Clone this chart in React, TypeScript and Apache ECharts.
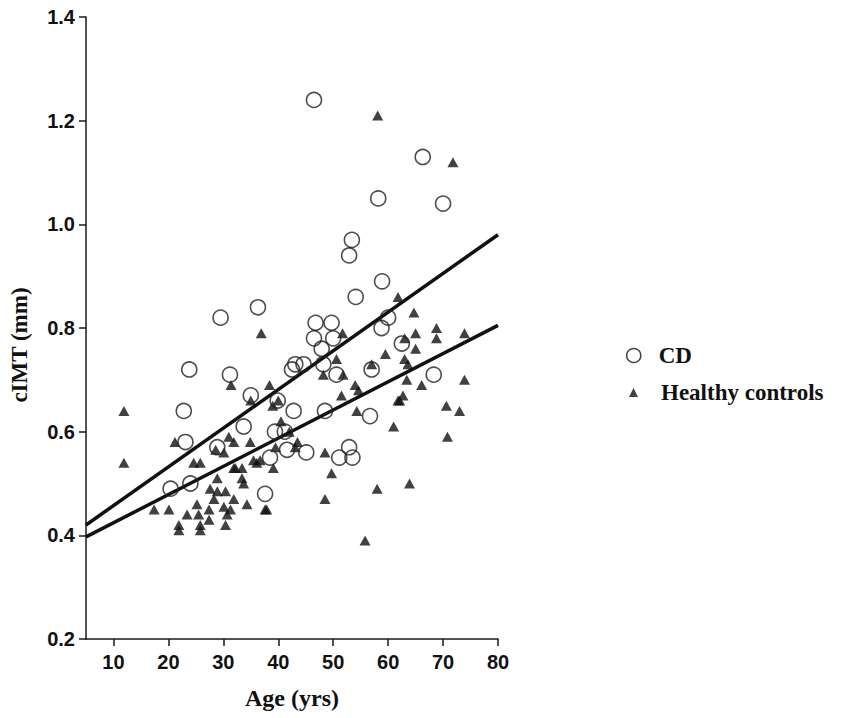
import React, { useEffect, useRef } from "react";
import * as echarts from "echarts";

// CD patients: [age (yrs), cIMT (mm)]
const cdPoints: number[][] = [
  [46.5, 1.24], [66.3, 1.13], [58.2, 1.05], [70.0, 1.04], [53.4, 0.97], [52.9, 0.94],
  [58.9, 0.89], [54.1, 0.86], [36.3, 0.84], [29.5, 0.82], [46.8, 0.81], [49.7, 0.81],
  [60.0, 0.82], [58.8, 0.80], [46.5, 0.78], [50.0, 0.78], [47.9, 0.76], [62.5, 0.77],
  [44.6, 0.73], [43.1, 0.73], [48.2, 0.73], [42.5, 0.72], [23.8, 0.72], [31.2, 0.71],
  [57.0, 0.72], [50.6, 0.71], [68.3, 0.71], [35.0, 0.67], [39.9, 0.66], [22.8, 0.64],
  [42.8, 0.64], [48.5, 0.64], [56.7, 0.63], [33.7, 0.61], [39.4, 0.60], [41.2, 0.60],
  [23.1, 0.58], [28.9, 0.57], [41.6, 0.565], [52.9, 0.57], [45.1, 0.56], [38.5, 0.55],
  [51.1, 0.55], [53.5, 0.55], [24.0, 0.50], [20.4, 0.49], [37.6, 0.48],
];

// Healthy controls: [age (yrs), cIMT (mm)]
const hcPoints: number[][] = [
  [58.1, 1.21], [71.8, 1.12], [61.8, 0.86], [64.7, 0.83], [68.8, 0.80], [36.9, 0.79],
  [65.0, 0.79], [73.9, 0.79], [51.7, 0.79], [63.0, 0.78], [68.8, 0.78], [65.0, 0.76],
  [59.5, 0.75], [63.0, 0.74], [50.6, 0.74], [57.0, 0.73], [63.6, 0.73], [48.2, 0.71],
  [51.8, 0.71], [63.4, 0.70], [73.9, 0.70], [31.4, 0.69], [38.4, 0.69], [66.1, 0.69],
  [54.0, 0.69], [54.6, 0.68], [51.5, 0.67], [62.7, 0.67], [35.0, 0.66], [40.0, 0.66],
  [61.8, 0.66], [62.1, 0.66], [39.0, 0.65], [70.6, 0.65], [11.9, 0.64], [73.0, 0.64],
  [54.3, 0.64], [61.0, 0.61], [70.8, 0.59], [21.2, 0.58], [34.9, 0.58], [43.1, 0.57],
  [28.6, 0.565], [30.1, 0.56], [48.5, 0.56], [31.0, 0.59], [31.9, 0.58], [11.9, 0.54],
  [24.6, 0.54], [25.8, 0.54], [36.1, 0.54], [35.5, 0.545], [36.7, 0.545], [32.2, 0.53],
  [33.4, 0.53], [31.9, 0.53], [39.1, 0.53], [49.7, 0.52], [33.4, 0.51], [28.9, 0.51],
  [27.6, 0.49], [28.9, 0.485], [30.4, 0.485], [58.0, 0.49], [63.9, 0.50], [33.7, 0.50],
  [28.3, 0.47], [31.9, 0.47], [48.5, 0.47], [30.1, 0.455], [34.3, 0.46], [25.2, 0.46],
  [27.4, 0.45], [17.4, 0.45], [20.1, 0.45], [37.6, 0.45], [23.4, 0.44], [25.5, 0.44],
  [30.7, 0.44], [31.3, 0.45], [27.4, 0.43], [21.9, 0.42], [30.4, 0.42], [25.8, 0.42],
  [21.9, 0.41], [25.8, 0.41], [55.8, 0.39], [37.9, 0.45], [40.5, 0.62], [42.0, 0.60],
  [43.5, 0.58], [39.5, 0.57],
];

// Regression lines (endpoints of the fitted lines)
const cdFit: number[][] = [[5, 0.42], [80, 0.98]];
const hcFit: number[][] = [[5, 0.397], [80, 0.805]];

const xTicks = [10, 20, 30, 40, 50, 60, 70, 80];
const yTicks = [0.2, 0.4, 0.6, 0.8, 1.0, 1.2, 1.4];

const SANS = "'Liberation Sans', Arial, sans-serif";
const SERIF = "'Liberation Serif', 'Times New Roman', serif";

export default function App() {
  const ref = useRef<HTMLDivElement>(null);

  useEffect(() => {
    if (!ref.current) return;
    const chart = echarts.init(ref.current, undefined, { renderer: "svg" });
    const axisLine = { show: true, lineStyle: { color: "#1a1a1a", width: 1.5 } };
    chart.setOption({
      animation: false,
      backgroundColor: "#ffffff",
      grid: { left: 86, right: 351, top: 17, bottom: 79, containLabel: false, outerBoundsMode: "none" },
      legend: [
        {
          data: [{ name: "CD", icon: "circle", itemStyle: { color: "rgba(0,0,0,0)", borderColor: "#111", borderWidth: 1.5 } }],
          left: 621,
          top: 339,
          itemWidth: 14,
          itemHeight: 14,
          textStyle: { fontFamily: SERIF, fontWeight: "bold", fontSize: 23, color: "#111", padding: [0, 0, 0, 13] },
          selectedMode: false,
        },
        {
          data: [{ name: "Healthy controls", icon: "triangle", itemStyle: { color: "#111" } }],
          left: 624,
          top: 376,
          itemWidth: 9,
          itemHeight: 9,
          textStyle: { fontFamily: SERIF, fontWeight: "bold", fontSize: 23, color: "#111", padding: [0, 0, 0, 18] },
          selectedMode: false,
        },
      ],
      xAxis: {
        type: "value",
        min: 5,
        max: 80,
        name: "Age (yrs)",
        nameLocation: "middle",
        nameGap: 47,
        nameTextStyle: { fontFamily: SERIF, fontWeight: "bold", fontSize: 24, color: "#111" },
        axisLine,
        axisTick: { show: true, length: 7, lineStyle: { color: "#1a1a1a", width: 1.5 }, customValues: xTicks },
        axisLabel: {
          customValues: xTicks,
          margin: 13,
          fontFamily: SANS,
          fontWeight: "bold",
          fontSize: 20,
          color: "#111",
        },
        splitLine: { show: false },
      },
      yAxis: {
        type: "value",
        min: 0.2,
        max: 1.4,
        name: "cIMT (mm)",
        nameLocation: "middle",
        nameGap: 55,
        nameRotate: 90,
        nameTextStyle: { fontFamily: SERIF, fontWeight: "bold", fontSize: 23, color: "#111", padding: [0, 34, 0, 0] },
        axisLine,
        axisTick: { show: true, length: 7, lineStyle: { color: "#1a1a1a", width: 1.5 }, customValues: yTicks },
        axisLabel: {
          customValues: yTicks,
          margin: 11,
          fontFamily: SANS,
          fontWeight: "bold",
          fontSize: 20,
          color: "#111",
          formatter: (v: number) => v.toFixed(1),
        },
        splitLine: { show: false },
      },
      series: [
        {
          name: "CD fit",
          type: "line",
          data: cdFit,
          symbol: "none",
          lineStyle: { color: "#111", width: 3.5 },
          z: 1,
        },
        {
          name: "Healthy fit",
          type: "line",
          data: hcFit,
          symbol: "none",
          lineStyle: { color: "#111", width: 3.5 },
          z: 1,
        },
        {
          name: "Healthy controls",
          type: "scatter",
          data: hcPoints,
          symbol: "triangle",
          symbolSize: [11, 10],
          itemStyle: { color: "#111" },
          z: 2,
        },
        {
          name: "CD",
          type: "scatter",
          data: cdPoints,
          symbol: "circle",
          symbolSize: 15,
          itemStyle: { color: "rgba(0,0,0,0)", borderColor: "#222", borderWidth: 1.6 },
          z: 3,
        },
      ],
    });
    return () => chart.dispose();
  }, []);

  return <div ref={ref} style={{ width: 849, height: 718, position: "absolute", left: 0, top: 0 }} />;
}
